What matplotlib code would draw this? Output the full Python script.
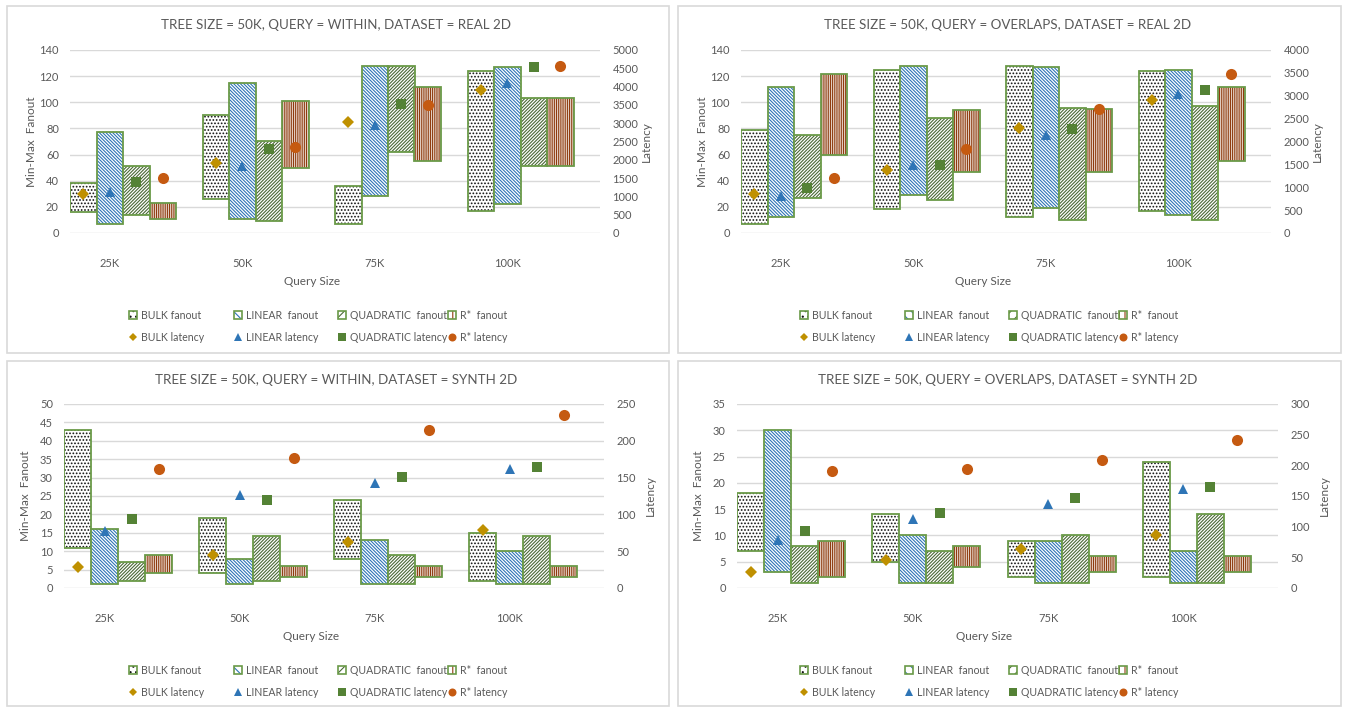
import matplotlib
matplotlib.use('Agg')
import matplotlib.pyplot as plt
from matplotlib.patches import Rectangle
from matplotlib.lines import Line2D
from matplotlib.legend_handler import HandlerTuple
import numpy as np

plt.rcParams['font.family'] = ['Lato', 'DejaVu Sans']
plt.rcParams['hatch.linewidth'] = 0.8

# ---------------- data ----------------
categories = ['25K', '50K', '75K', '100K']
series_names = ['BULK', 'LINEAR', 'QUADRATIC', 'R*']
fan_labels = ['BULK fanout', 'LINEAR  fanout', 'QUADRATIC  fanout', 'R*  fanout']
lat_labels = ['BULK latency', 'LINEAR latency', 'QUADRATIC latency', 'R* latency']

# Panel 1: WITHIN, REAL 2D
p1_title = 'TREE SIZE = 50K, QUERY = WITHIN, DATASET = REAL 2D'
p1_bulk_min, p1_bulk_max = [16, 26, 7, 17], [38, 90, 36, 124]
p1_linear_min, p1_linear_max = [7, 11, 28, 22], [77, 115, 128, 127]
p1_quad_min, p1_quad_max = [14, 9, 62, 51], [51, 70, 128, 103]
p1_rstar_min, p1_rstar_max = [11, 50, 55, 51], [23, 101, 112, 103]
p1_bulk_lat = [1060, 1920, 3030, 3920]
p1_linear_lat = [1110, 1840, 2940, 4110]
p1_quad_lat = [1400, 2300, 3530, 4530]
p1_rstar_lat = [1500, 2340, 3510, 4550]

# Panel 2: OVERLAPS, REAL 2D
p2_title = 'TREE SIZE = 50K, QUERY = OVERLAPS, DATASET = REAL 2D'
p2_bulk_min, p2_bulk_max = [7, 18, 12, 17], [79, 125, 128, 124]
p2_linear_min, p2_linear_max = [12, 29, 19, 14], [112, 128, 127, 125]
p2_quad_min, p2_quad_max = [27, 25, 10, 10], [75, 88, 96, 97]
p2_rstar_min, p2_rstar_max = [60, 47, 47, 55], [122, 94, 95, 112]
p2_bulk_lat = [850, 1380, 2300, 2900]
p2_linear_lat = [800, 1480, 2150, 3030]
p2_quad_lat = [990, 1490, 2280, 3120]
p2_rstar_lat = [1200, 1840, 2710, 3480]

# Panel 3: WITHIN, SYNTH 2D
p3_title = 'TREE SIZE = 50K, QUERY = WITHIN, DATASET = SYNTH 2D'
p3_bulk_min, p3_bulk_max = [11, 4, 8, 2], [43, 19, 24, 15]
p3_linear_min, p3_linear_max = [1, 1, 1, 1], [16, 8, 13, 10]
p3_quad_min, p3_quad_max = [2, 2, 1, 1], [7, 14, 9, 14]
p3_rstar_min, p3_rstar_max = [4, 3, 3, 3], [9, 6, 6, 6]
p3_bulk_lat = [29, 45, 63, 79]
p3_linear_lat = [78, 126, 143, 162]
p3_quad_lat = [94, 120, 151, 165]
p3_rstar_lat = [162, 177, 215, 235]

# Panel 4: OVERLAPS, SYNTH 2D
p4_title = 'TREE SIZE = 50K, QUERY = OVERLAPS, DATASET = SYNTH 2D'
p4_bulk_min, p4_bulk_max = [7, 5, 2, 2], [18, 14, 9, 24]
p4_linear_min, p4_linear_max = [3, 1, 1, 1], [30, 10, 9, 7]
p4_quad_min, p4_quad_max = [1, 1, 1, 1], [8, 7, 10, 14]
p4_rstar_min, p4_rstar_max = [2, 4, 3, 3], [9, 8, 6, 6]
p4_bulk_lat = [26, 46, 63, 87]
p4_linear_lat = [79, 112, 137, 161]
p4_quad_lat = [93, 123, 147, 164]
p4_rstar_lat = [191, 194, 208, 241]

# axis scales: (primary max, primary step, secondary max, secondary step)
p1_scale = (140, 20, 5000, 500)
p2_scale = (140, 20, 4000, 500)
p3_scale = (50, 5, 250, 50)
p4_scale = (35, 5, 300, 50)

# ---------------- styles ----------------
W, H = 1345, 707
TEXT = '#595959'
GRID = '#D9D9D9'
EDGE = '#6A9A48'
hatch_styles = [('.....', '#111111'), ('\\' * 10, '#2E75B6'),
                ('/' * 10, '#4A6836'), ('|' * 9, '#8E3B0E')]
marker_styles = [('D', '#BF9000', 6.3), ('^', '#2E75B6', 7.5),
                 ('s', '#548235', 7.3), ('o', '#C55A11', 8)]
offsets = [-0.3, -0.1, 0.1, 0.3]
legend_cols_px = [126, 231, 335, 445]

fig = plt.figure(figsize=(W / 100, H / 100), dpi=100)


def axes_px(l, t, r, b):
    return fig.add_axes([l / W, 1 - b / H, (r - l) / W, (b - t) / H])


def draw_panel(box, axrect, title, mins, maxs, lats, scale):
    bl, bt, br, bb = box
    fig.add_artist(Rectangle((bl / W, 1 - bb / H), (br - bl) / W, (bb - bt) / H,
                             transform=fig.transFigure, fill=False,
                             edgecolor='#D9D9D9', linewidth=1.2))
    fig.text(((bl + br) / 2 - 2) / W, 1 - (bt + 19) / H, title, ha='center',
             va='center', fontsize=9.6, color=TEXT)
    l, t, r, b = axrect
    ax = axes_px(l, t, r, b)
    ymax, ystep, y2max, y2step = scale
    ax.set_xlim(-0.4, 3.6)
    ax.set_ylim(0, ymax)
    ax.set_yticks(np.arange(0, ymax + 1, ystep))
    ax.yaxis.grid(True, color=GRID, linewidth=1.0)
    ax.set_axisbelow(True)
    for s in ax.spines.values():
        s.set_visible(False)
    ax.tick_params(length=0, colors=TEXT, labelsize=8)
    ax.tick_params(axis='y', pad=8)
    ax.tick_params(axis='x', pad=18)
    ax.set_xticks(np.arange(len(categories)) - 0.1)
    ax.set_xticklabels(categories)
    ax.set_xlabel('Query Size', color=TEXT, fontsize=8.5)
    ax.xaxis.set_label_coords((312 - 70) / 530, -(276 - 233) / (b - t))
    ax.set_ylabel('Min-Max  Fanout', color=TEXT, fontsize=8.5)
    ax.yaxis.set_label_coords(-33 / (r - l), 0.5)

    x = np.arange(len(categories))
    for k in range(4):
        h, hc = hatch_styles[k]
        lo = np.array(mins[k]); hi = np.array(maxs[k])
        ax.bar(x + offsets[k], hi - lo, bottom=lo, width=0.2, facecolor='white',
               edgecolor=hc, hatch=h, linewidth=0)
        ax.bar(x + offsets[k], hi - lo, bottom=lo, width=0.2, fill=False,
               edgecolor=EDGE, linewidth=1.3)

    ax2 = ax.twinx()
    ax2.set_ylim(0, y2max)
    ax2.set_yticks(np.arange(0, y2max + 1, y2step))
    for s in ax2.spines.values():
        s.set_visible(False)
    ax2.tick_params(length=0, colors=TEXT, labelsize=8, pad=9)
    ax2.set_ylabel('Latency', color=TEXT, fontsize=8.5)
    ax2.yaxis.set_label_coords(1 + 41 / (r - l), 0.5)
    for k in range(4):
        m, c, ms = marker_styles[k]
        ax2.plot(x + offsets[k], lats[k], linestyle='none', marker=m, color=c,
                 markersize=ms, markeredgewidth=0)

    # legend: one column per series
    for k in range(4):
        h, hc = hatch_styles[k]
        hp = Rectangle((0, 0), 1, 1, facecolor='white', edgecolor=hc,
                       hatch=h[:3], linewidth=0)
        ep = Rectangle((0, 0), 1, 1, fill=False, edgecolor=EDGE, linewidth=1.2)
        m, c, ms = marker_styles[k]
        lh = Line2D([], [], linestyle='none', marker=m, color=c,
                    markersize=ms * 0.72, markeredgewidth=0)
        fig.legend([(hp, ep), lh], [fan_labels[k], lat_labels[k]], loc='upper left',
                   bbox_to_anchor=((bl + legend_cols_px[k] - 4) / W, 1 - (bt + 304) / H),
                   bbox_transform=fig.transFigure, frameon=False, borderpad=0,
                   borderaxespad=0, fontsize=7.6, labelcolor=TEXT,
                   handlelength=0.75, handleheight=0.75, handletextpad=0.35,
                   labelspacing=1.0,
                   handler_map={tuple: HandlerTuple(ndivide=1, pad=0)})
    return ax


draw_panel((7, 6, 669, 353), (70, 50, 600, 233), p1_title,
           [p1_bulk_min, p1_linear_min, p1_quad_min, p1_rstar_min],
           [p1_bulk_max, p1_linear_max, p1_quad_max, p1_rstar_max],
           [p1_bulk_lat, p1_linear_lat, p1_quad_lat, p1_rstar_lat], p1_scale)
draw_panel((678, 6, 1341, 353), (741, 50, 1271, 233), p2_title,
           [p2_bulk_min, p2_linear_min, p2_quad_min, p2_rstar_min],
           [p2_bulk_max, p2_linear_max, p2_quad_max, p2_rstar_max],
           [p2_bulk_lat, p2_linear_lat, p2_quad_lat, p2_rstar_lat], p2_scale)
draw_panel((7, 361, 669, 706), (64, 404, 604, 588), p3_title,
           [p3_bulk_min, p3_linear_min, p3_quad_min, p3_rstar_min],
           [p3_bulk_max, p3_linear_max, p3_quad_max, p3_rstar_max],
           [p3_bulk_lat, p3_linear_lat, p3_quad_lat, p3_rstar_lat], p3_scale)
draw_panel((678, 361, 1341, 706), (737, 404, 1278, 588), p4_title,
           [p4_bulk_min, p4_linear_min, p4_quad_min, p4_rstar_min],
           [p4_bulk_max, p4_linear_max, p4_quad_max, p4_rstar_max],
           [p4_bulk_lat, p4_linear_lat, p4_quad_lat, p4_rstar_lat], p4_scale)

fig.savefig('out.png', dpi=100, facecolor='white')
